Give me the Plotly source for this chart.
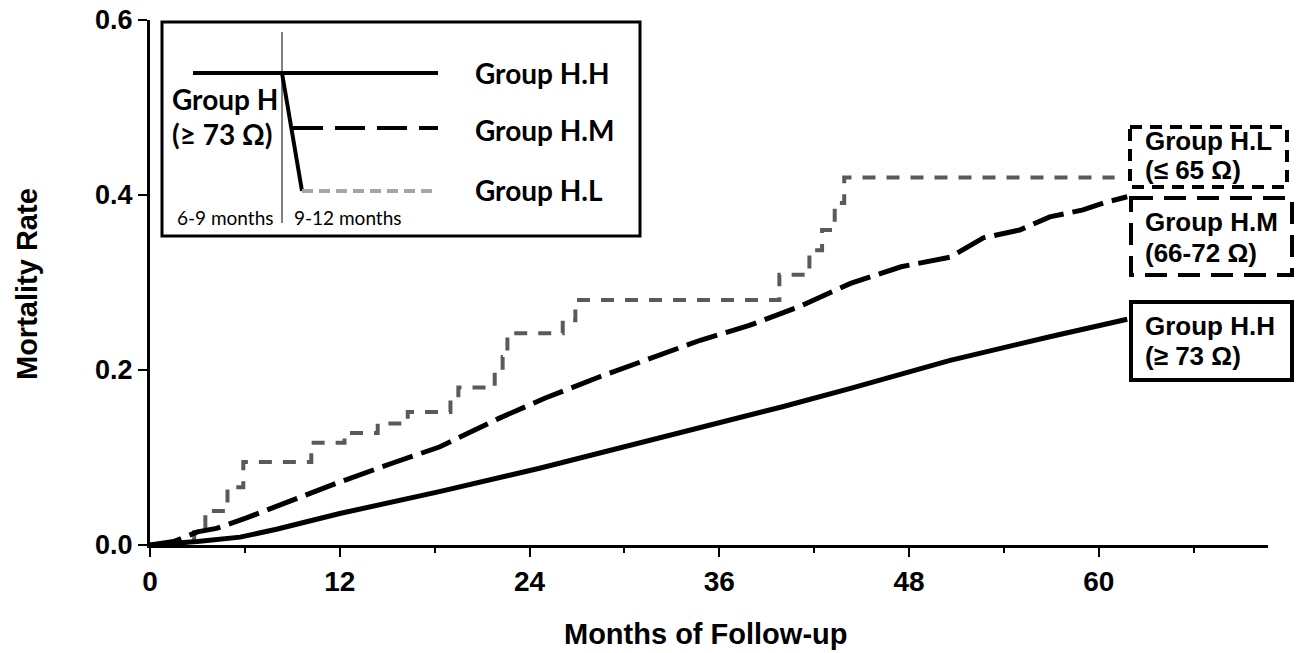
import plotly.graph_objects as go

# ---------------- data ----------------
hh_months = [0, 2, 3, 5.7, 8, 12, 18.3, 24.7, 30, 34.8, 40, 44.3, 50.6, 56.9, 60, 61.8]
hh_rate = [0, 0.002, 0.004, 0.009, 0.018, 0.036, 0.061, 0.088, 0.112, 0.134, 0.158, 0.179, 0.211, 0.238, 0.250, 0.258]

hm_months = [0, 1.5, 3.0, 4.2, 6.1, 8.7, 12.0, 15.4, 18.3, 22.1, 25.0, 28.4, 31.5, 34.8, 37.9, 41.0,
             44.3, 47.5, 50.6, 52.7, 55.0, 56.9, 59.0, 60.5, 61.8]
hm_rate = [0, 0.004, 0.015, 0.019, 0.031, 0.049, 0.072, 0.094, 0.112, 0.145, 0.168, 0.192, 0.212,
           0.234, 0.251, 0.272, 0.299, 0.318, 0.329, 0.351, 0.360, 0.375, 0.383, 0.392, 0.398]

hl_months = [0, 2.8, 3.5, 4.9, 5.9, 10.2, 12.3, 14.4, 16.3, 19.0, 19.5, 21.8, 22.3, 22.6, 26.1, 26.9,
             39.8, 41.7, 42.5, 43.3, 43.9, 61.0]
hl_rate = [0, 0.015, 0.039, 0.066, 0.095, 0.117, 0.128, 0.139, 0.152, 0.167, 0.180, 0.197, 0.215,
           0.242, 0.257, 0.280, 0.309, 0.337, 0.360, 0.391, 0.420, 0.420]

x_ticks = [0, 12, 24, 36, 48, 60]
y_ticks = [0.0, 0.2, 0.4, 0.6]

# ---------------- layout helpers ----------------
# the page body has an 8px margin, so the figure is drawn 8px smaller and offset
OFF = 8
W, H = 1305 - OFF, 653 - OFF
L, R, T, B = 150, 1268, 20, 545  # plot area in page pixels


def px(x):
    return (x - L) / (R - L)


def py(y):
    return (B - y) / (B - T)


fig = go.Figure()
fig.add_trace(go.Scatter(x=hl_months, y=hl_rate, mode="lines", line_shape="hv",
                         line=dict(color="rgb(90,90,90)", width=4, dash="13px,11px"), name="Group H.L"))
fig.add_trace(go.Scatter(x=hm_months, y=hm_rate, mode="lines",
                         line=dict(color="black", width=5, dash="32px,9px"), name="Group H.M"))
fig.add_trace(go.Scatter(x=hh_months, y=hh_rate, mode="lines",
                         line=dict(color="black", width=5), name="Group H.H"))

shapes = []
annotations = []

# inset legend box
shapes.append(dict(type="rect", xref="paper", yref="paper", x0=px(162), x1=px(640), y0=py(22), y1=py(236),
                   line=dict(color="black", width=3), fillcolor="white", layer="above"))
shapes.append(dict(type="line", xref="paper", yref="paper", x0=px(282), x1=px(282), y0=py(32), y1=py(223),
                   line=dict(color="black", width=1), layer="above"))
shapes.append(dict(type="line", xref="paper", yref="paper", x0=px(193), x1=px(438), y0=py(73), y1=py(73),
                   line=dict(color="black", width=4), layer="above"))
shapes.append(dict(type="line", xref="paper", yref="paper", x0=px(282), x1=px(302), y0=py(73), y1=py(191),
                   line=dict(color="black", width=4), layer="above"))
shapes.append(dict(type="line", xref="paper", yref="paper", x0=px(293), x1=px(438), y0=py(128), y1=py(128),
                   line=dict(color="black", width=4, dash="30px,12px"), layer="above"))
shapes.append(dict(type="line", xref="paper", yref="paper", x0=px(302), x1=px(436), y0=py(191), y1=py(191),
                   line=dict(color="rgb(165,165,165)", width=4, dash="11px,6px"), layer="above"))

leg_font = dict(family="Lato", size=28, color="black")
for txt, x, y in [("<b>Group H.H</b>", 473, 73), ("<b>Group H.M</b>", 473, 130), ("<b>Group H.L</b>", 473, 190),
                  ("<b>Group H</b>", 170, 99), ("<b>(≥ 73 Ω)</b>", 170, 134)]:
    annotations.append(dict(text=txt, xref="paper", yref="paper", x=px(x), y=py(y), xanchor="left",
                            yanchor="middle", showarrow=False, font=leg_font))
for txt, x in [("6-9 months", 175), ("9-12 months", 292)]:
    annotations.append(dict(text=txt, xref="paper", yref="paper", x=px(x), y=py(217), xanchor="left",
                            yanchor="middle", showarrow=False, font=dict(family="Lato", size=19, color="black")))

# right label boxes
boxes = [
    ((1130, 127, 1287, 187), "12px,8px", "Group H.L", "(≤ 65 Ω)", 141, 170),
    ((1131, 198, 1292, 275), "22px,11px", "Group H.M", "(66-72 Ω)", 222, 253),
    ((1131, 302, 1292, 380), None, "Group H.H", "(≥ 73 Ω)", 326, 356),
]
for (x0, y0, x1, y1), dash, t1, t2, ty1, ty2 in boxes:
    ln = dict(color="black", width=4)
    if dash:
        ln["dash"] = dash
    shapes.append(dict(type="rect", xref="paper", yref="paper", x0=px(x0), x1=px(x1), y0=py(y0), y1=py(y1),
                       line=ln, fillcolor="rgba(0,0,0,0)", layer="above"))
    for t, ty in [(t1, ty1), (t2, ty2)]:
        annotations.append(dict(text="<b>" + t + "</b>", xref="paper", yref="paper", x=px(1143), y=py(ty),
                                xanchor="left", yanchor="middle", showarrow=False,
                                font=dict(family="Liberation Sans", size=26, color="black")))

# axis titles
annotations.append(dict(text="<b>Months of Follow-up</b>", xref="paper", yref="paper", x=px(705), y=py(634),
                        xanchor="center", yanchor="middle", showarrow=False,
                        font=dict(family="Liberation Sans", size=29, color="black")))
annotations.append(dict(text="<b>Mortality Rate</b>", xref="paper", yref="paper", x=px(27), y=py(284),
                        xanchor="center", yanchor="middle", showarrow=False, textangle=-90,
                        font=dict(family="Liberation Sans", size=29, color="black")))

fig.update_layout(
    width=W, height=H,
    margin=dict(l=L - OFF, r=(1305 - R), t=T - OFF, b=(653 - B), autoexpand=False),
    paper_bgcolor="white", plot_bgcolor="white",
    showlegend=False,
    shapes=shapes, annotations=annotations,
    font=dict(family="Liberation Sans", color="black"),
    xaxis=dict(range=[0, 70.7], tickvals=x_ticks, ticktext=["<b>%d</b>" % v for v in x_ticks],
               showgrid=False, zeroline=False, showline=True, linecolor="black", linewidth=3,
               ticks="outside", ticklen=9, tickwidth=2, tickcolor="black",
               tickfont=dict(family="Liberation Sans", size=28, color="black"), automargin=False,
               ticklabeloverflow="allow",
               minor=dict(dtick=6, tick0=0, ticks="outside", ticklen=5, tickwidth=2, tickcolor="black")),
    yaxis=dict(range=[0, 0.6], tickvals=y_ticks, ticktext=["<b>%.1f</b>" % v for v in y_ticks],
               showgrid=False, zeroline=False, showline=True, linecolor="black", linewidth=3,
               ticks="outside", ticklen=9, tickwidth=2, tickcolor="black", automargin=False,
               ticklabeloverflow="allow",
               tickfont=dict(family="Liberation Sans", size=27, color="black")),
)

fig.write_html("out.html")
